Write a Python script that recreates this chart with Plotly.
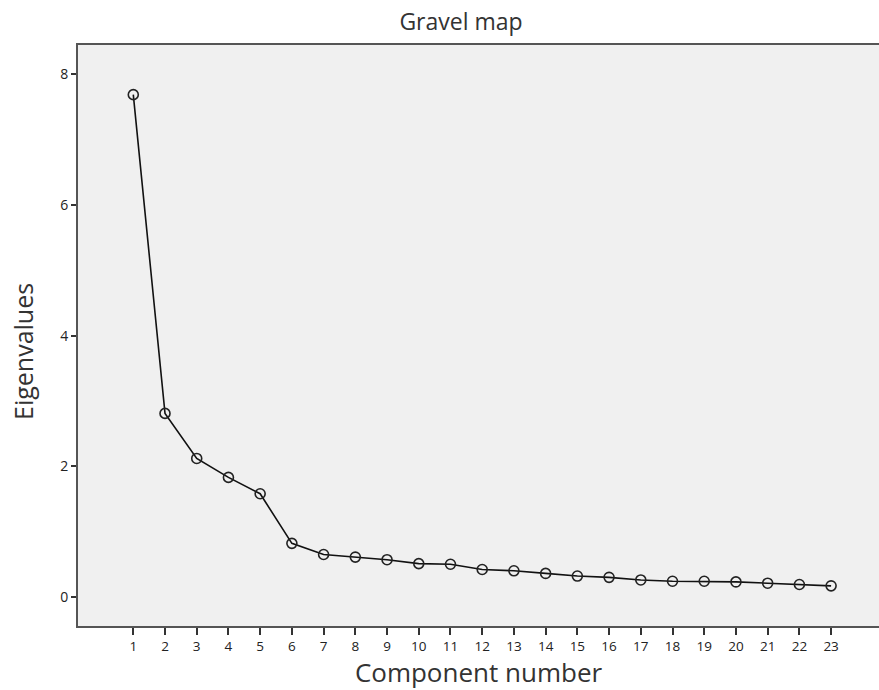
import plotly.graph_objects as go

components = list(range(1, 24))
eigenvalues = [7.69, 2.81, 2.12, 1.83, 1.58, 0.82, 0.65, 0.61, 0.57, 0.51, 0.50,
               0.42, 0.40, 0.36, 0.32, 0.30, 0.26, 0.24, 0.24, 0.23, 0.21, 0.19, 0.17]
y_ticks = [0, 2, 4, 6, 8]

W, H = 879, 690

fig = go.Figure()
fig.add_trace(go.Scatter(
    x=components, y=eigenvalues, mode="lines+markers",
    line=dict(color="#111111", width=1.6),
    marker=dict(symbol="circle-open", size=10, color="#222222", line=dict(width=1.6)),
    showlegend=False,
))

font_family = "Open Sans, Noto Sans, sans-serif"
fig.update_layout(
    width=W, height=H,
    margin=dict(l=78, r=0, t=45, b=64),
    paper_bgcolor="white", plot_bgcolor="#f0f0f0",
    font=dict(family=font_family, color="#222222"),
    title=dict(text="Gravel map", x=461 / W, xanchor="center",
               y=1 - 22 / H, yanchor="middle",
               font=dict(size=23, color="#333333")),
    annotations=[dict(
        text="Eigenvalues", textangle=-90, showarrow=False,
        xref="paper", yref="paper",
        x=(23 - 78) / (W - 78), y=(626 - 352) / (626 - 45),
        xanchor="center", yanchor="middle",
        font=dict(size=25, color="#333333", family=font_family),
    )],
)
fig.update_xaxes(
    range=[-0.743, 24.51], tickmode="array", tickvals=components,
    ticktext=[str(c) for c in components],
    showgrid=False, zeroline=False,
    showline=True, linecolor="#555555", linewidth=2, mirror=True,
    ticks="outside", ticklen=7, tickcolor="#333333", tickwidth=1.5,
    tickfont=dict(size=13.5, color="#222222"),
    title=dict(text="Component number", font=dict(size=26, color="#333333"), standoff=1),
)
fig.update_yaxes(
    range=[-0.445, 8.45], tickmode="array", tickvals=y_ticks,
    ticktext=[str(v) for v in y_ticks],
    showgrid=False, zeroline=False,
    showline=True, linecolor="#555555", linewidth=2,
    ticks="outside", ticklen=5, tickcolor="#333333", tickwidth=1.5,
    tickfont=dict(size=14, color="#222222"),
)

fig.write_html("out.html", config={"displayModeBar": False},
               post_script="document.body.style.margin='0';")
